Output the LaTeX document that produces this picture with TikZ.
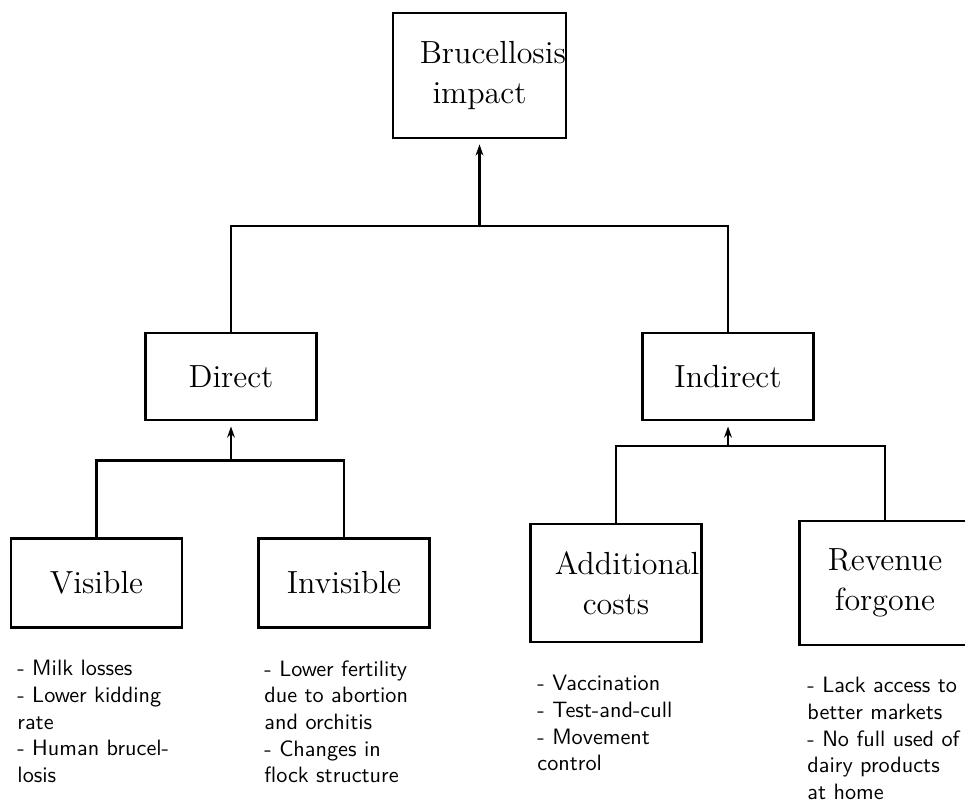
\documentclass[tikz,border=0pt]{standalone}
\usetikzlibrary{arrows.meta}

\begin{document}
\begin{tikzpicture}[
  x=0.45pt, y=-0.45pt,
  box/.style={draw, line width=1pt, minimum width=77pt, inner sep=0pt, align=center, font=\Large},
  items/.style={anchor=north west, inner sep=0pt, align=left, font=\sffamily},
  link/.style={line width=1pt},
  up/.style={line width=1pt, -{Stealth[length=5pt, width=3.5pt]}, shorten >=2.5pt}
]
\useasboundingbox (0,0) rectangle (965,803);

\node[box, minimum height=56pt] (impact) at (479.5,75.5) {\hspace*{12pt}Brucellosis\\impact};
\node[box, minimum height=39pt] (direct) at (231,376.5) {Direct};
\node[box, minimum height=39pt] (indirect) at (728,376.5) {Indirect};
\node[box, minimum height=40pt] (visible) at (96.5,583) {Visible};
\node[box, minimum height=40pt] (invisible) at (344,583) {Invisible};
\node[box, minimum height=53pt] (additional) at (616,583) {\hspace*{10pt}Additional\\costs};
\node[box, minimum height=56pt] (revenue) at (885,583) {Revenue\\forgone};

\node[items] (visiblelist) at (17,660) {- Milk losses\\- Lower kidding\\rate\\- Human brucel-\\losis};
\node[items] (invisiblelist) at (264,660) {- Lower fertility\\due to abortion\\and orchitis\\- Changes in\\flock structure};
\node[items] (additionallist) at (537,675) {- Vaccination\\- Test-and-cull\\- Movement\\control};
\node[items] (revenuelist) at (807,677) {- Lack access to\\better markets\\- No full used of\\dairy products\\at home};

\draw[link] (direct.north) -- ++(0,-106) coordinate (dtop) -| (indirect.north);
\draw[up] (dtop -| impact.south) -- (impact.south);
\draw[link] (visible.north) -- ++(0,-77) coordinate (vtop) -| (invisible.north);
\draw[up] (vtop -| direct.south) -- (direct.south);
\draw[link] (additional.north) -- ++(0,-77) coordinate (atop) -| (revenue.north);
\draw[up] (atop -| indirect.south) -- (indirect.south);
\end{tikzpicture}
\end{document}
